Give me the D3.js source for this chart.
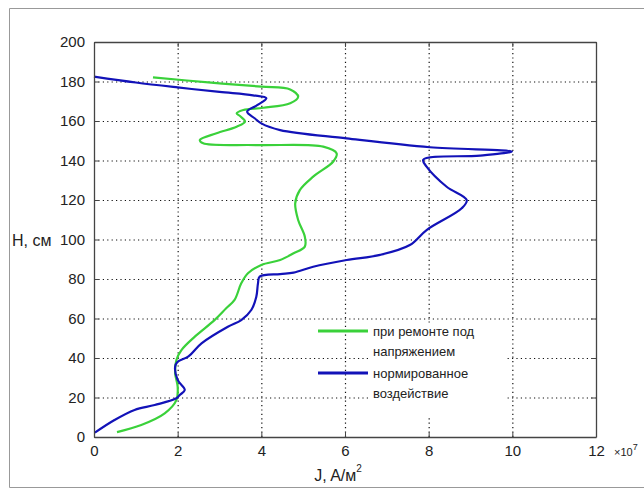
<!DOCTYPE html>
<html>
<head>
<meta charset="utf-8">
<script src="https://cdn.jsdelivr.net/npm/d3@7"></script>
<style>
  body { margin: 0; background: #fff; overflow: hidden; }
  svg { display: block; }
  svg text { font-family: "Liberation Sans", Arial, sans-serif; fill: #222; }
</style>
</head>
<body>
<div id="chart"></div>
<script>
// Values (J in units of 1e7 A/m^2, H in cm)
const xTicks = [0, 2, 4, 6, 8, 10, 12];
const yTicks = [0, 20, 40, 60, 80, 100, 120, 140, 160, 180, 200];

const repairJ = [1.41, 2.8, 4.0, 4.69, 4.88, 4.69, 4.05, 3.57, 3.41, 3.49, 3.61, 3.41, 2.93, 2.53, 2.61, 3.89, 5.48, 5.8, 5.72, 5.24, 4.92, 4.81, 4.88, 5.04, 5.04, 4.77, 4.45, 4.0, 3.68, 3.52, 3.36, 3.16, 2.88, 2.41, 2.09, 1.97, 1.94, 2.0, 1.97, 1.69, 1.13, 0.55];
const repairH = [182.1, 179.4, 177.4, 176, 172.3, 169, 166.7, 165.6, 163.9, 162.5, 159.7, 157.1, 153.8, 150.4, 148.7, 147.8, 147, 143.6, 139.5, 131.8, 125, 118.3, 109.9, 101.4, 96.4, 93, 89.6, 87.1, 82.9, 77.8, 69.4, 65.2, 59.2, 50.8, 44, 39, 32.2, 25.5, 18.7, 12, 6.1, 2.5];

const normJ = [0.0, 1.0, 2.0, 3.0, 3.8, 4.12, 3.9, 3.66, 3.84, 4.0, 4.45, 6.04, 8.03, 9.99, 9.23, 7.87, 7.95, 8.43, 8.91, 8.79, 7.95, 7.55, 6.84, 6.04, 5.24, 4.77, 4.45, 3.96, 3.92, 3.88, 3.76, 3.52, 3.2, 2.57, 2.25, 2.0, 1.94, 2.0, 2.17, 2.05, 1.97, 1.45, 0.97, 0.49, 0.02];
const normH = [182.5, 179.5, 177, 174.7, 173, 171.5, 168, 164.7, 161.4, 158.8, 155.4, 151.2, 146.7, 144.5, 142.5, 140.4, 136.9, 126.7, 120, 115.8, 104.8, 97.2, 92.2, 89.6, 86.2, 83.2, 82.5, 81.2, 77.8, 71, 64.3, 59.2, 55.8, 47.4, 40.7, 38.1, 35.6, 28.9, 23.8, 21.3, 19.6, 16.2, 13.7, 8.6, 2.2];

const legendLabels = [["при ремонте под", "напряжением"], ["нормированное", "воздействие"]];
const seriesColors = ["#3ad13a", "#1212b8"];

const width = 644;
const height = 491;
const margin = { top: 42, right: 48, bottom: 54, left: 94 };
const innerWidth = width - margin.left - margin.right;
const innerHeight = height - margin.top - margin.bottom;

const svg = d3.select('#chart')
    .append('svg')
    .attr('width', width)
    .attr('height', height);

// outer frame of the figure (right side runs off the picture)
svg.append('path')
    .attr('d', `M${width},8.5 H9.5 V487.5 H${width}`)
    .style('fill', 'none')
    .style('stroke', '#999');

const g = svg.append('g')
    .attr('transform', `translate(${margin.left},${margin.top})`);

const xScale = d3.scaleLinear().domain([0, 12]).range([0, innerWidth]);
const yScale = d3.scaleLinear().domain([0, 200]).range([innerHeight, 0]);

// dotted grid
g.append('g')
    .attr('class', 'grid')
    .attr('transform', `translate(0,${innerHeight})`)
    .call(d3.axisBottom(xScale).tickValues(xTicks.slice(1, -1)).tickSize(-innerHeight).tickFormat(''));
g.append('g')
    .attr('class', 'grid')
    .call(d3.axisLeft(yScale).tickValues(yTicks.slice(1, -1)).tickSize(-innerWidth).tickFormat(''));
g.selectAll('.grid .domain').remove();
g.selectAll('.grid text').remove();
g.selectAll('.grid line')
    .style('stroke', '#111')
    .style('stroke-width', 1.2)
    .style('stroke-dasharray', '1.2,3.2');

// lines
const line = d3.line()
    .x(d => xScale(d[0]))
    .y(d => yScale(d[1]))
    .curve(d3.curveCatmullRom.alpha(0.5));

const seriesData = [
    d3.zip(repairJ, repairH),
    d3.zip(normJ, normH)
];

// legend background hides the grid behind the text
g.append('rect')
    .attr('x', 277).attr('y', 281)
    .attr('width', 134).attr('height', 93)
    .style('fill', '#fff');

seriesData.forEach((data, i) => {
    g.append('path')
        .datum(data)
        .attr('d', line)
        .style('fill', 'none')
        .style('stroke', seriesColors[i])
        .style('stroke-width', 2.2)
        .style('stroke-linejoin', 'round');
});

// axes with inward ticks on all four sides
const axisStyle = sel => {
    sel.select('.domain').style('stroke', '#444').style('stroke-width', 1.3);
    sel.selectAll('.tick line').style('stroke', '#444');
    sel.selectAll('.tick text').style('font-size', '15px').style('fill', '#222');
};

g.append('g')
    .attr('transform', `translate(0,${innerHeight})`)
    .call(d3.axisBottom(xScale).tickValues(xTicks).tickSizeInner(-5).tickSizeOuter(0).tickPadding(8))
    .call(axisStyle);
g.append('g')
    .call(d3.axisLeft(yScale).tickValues(yTicks).tickSizeInner(-5).tickSizeOuter(0).tickPadding(9))
    .call(axisStyle);
g.append('g')
    .attr('class', 'mirror')
    .call(d3.axisTop(xScale).tickValues(xTicks).tickSizeInner(-5).tickSizeOuter(0).tickFormat(''))
    .call(axisStyle);
g.append('g')
    .attr('class', 'mirror')
    .attr('transform', `translate(${innerWidth},0)`)
    .call(d3.axisRight(yScale).tickValues(yTicks).tickSizeInner(-5).tickSizeOuter(0).tickFormat(''))
    .call(axisStyle);
g.selectAll('.mirror text').remove();

// legend
legendLabels.forEach((lines, i) => {
    const ly = 289 + i * 42;
    g.append('line')
        .attr('x1', 224).attr('x2', 274)
        .attr('y1', ly).attr('y2', ly)
        .style('stroke', seriesColors[i])
        .style('stroke-width', 3);
    lines.forEach((t, j) => {
        g.append('text')
            .attr('x', 279)
            .attr('y', ly + 5 + j * 20)
            .style('font-size', '13px')
            .text(t);
    });
});

// axis labels
svg.append('text')
    .attr('x', 338).attr('y', 481)
    .attr('text-anchor', 'middle')
    .style('font-size', '16px')
    .html('J, A/м<tspan dy="-9" font-size="10">2</tspan>');

svg.append('text')
    .attr('x', 12).attr('y', yScale(100) + margin.top + 6)
    .style('font-size', '16px')
    .text('H, см');

svg.append('text')
    .attr('x', 614).attr('y', 456)
    .style('font-size', '11px')
    .html('×10<tspan dy="-6" font-size="9">7</tspan>');
</script>
</body>
</html>
